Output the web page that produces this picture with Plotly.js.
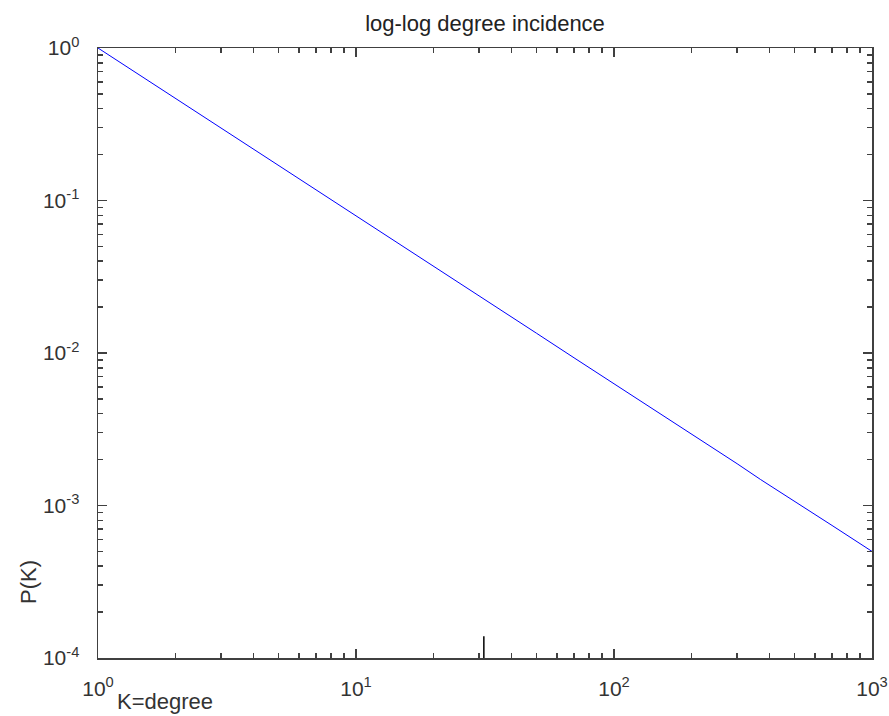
<!DOCTYPE html>
<html>
<head>
<meta charset="utf-8">
<script src="https://cdn.plot.ly/plotly-3.0.1.min.js"></script>
<style>html,body{margin:0;padding:0;background:#fff;}#chart{width:889px;height:716px;}</style>
</head>
<body>
<div id="chart"></div>
<script>
// Data
var degreeK = [1, 2, 3, 5, 6, 7, 10, 15, 20, 30, 50, 70, 100, 150, 200, 300, 370, 500, 700, 1000];
var probP   = [1.0, 0.467, 0.298, 0.171, 0.14, 0.118, 0.080, 0.051, 0.037, 0.0237, 0.0135, 0.0093, 0.0063, 0.00405, 0.00295, 0.00188, 0.00148, 0.00107, 0.00074, 0.0005];
var markerK = [31.3, 31.3];
var markerP = [0.0001, 0.000139];

var xTickVals = [1, 10, 100, 1000];
var xTickText = ['10<sup>0</sup>', '10<sup>1</sup>', '10<sup>2</sup>', '10<sup>3</sup>'];
var yTickVals = [0.0001, 0.001, 0.01, 0.1, 1];
var yTickText = ['10<sup>-4</sup>', '10<sup>-3</sup>', '10<sup>-2</sup>', '10<sup>-1</sup>', '10<sup>0</sup>'];
var titleText = 'log-log degree incidence';
var xLabel = 'K=degree';
var yLabel = 'P(K)';

function minorVals(lo, hi) {
  var out = [];
  for (var e = lo; e < hi; e++) {
    for (var m = 2; m <= 9; m++) out.push(m * Math.pow(10, e));
  }
  return out;
}

var font = 'Liberation Sans, Arial, sans-serif';
var axisColor = '#404040';

var traces = [
  {x: degreeK, y: probP, type: 'scatter', mode: 'lines',
   line: {color: '#0000ff', width: 1}, hoverinfo: 'skip'},
  {x: markerK, y: markerP, type: 'scatter', mode: 'lines',
   line: {color: '#000000', width: 1.5}, hoverinfo: 'skip'}
];

var layout = {
  width: 889, height: 716,
  margin: {l: 98, r: 17, t: 48, b: 58, pad: 0},
  paper_bgcolor: '#ffffff', plot_bgcolor: '#ffffff',
  showlegend: false,
  font: {family: font, size: 21, color: '#333333'},
  title: {text: titleText, font: {family: font, size: 22, color: '#222222'},
          x: 0.5, xref: 'paper', y: 1 - 23/716, yref: 'container', yanchor: 'middle'},
  xaxis: {
    type: 'log', range: [0, 3],
    tickmode: 'array', tickvals: xTickVals, ticktext: xTickText,
    ticks: 'inside', ticklen: 9, tickwidth: 1.5, tickcolor: axisColor,
    minor: {tickmode: 'array', tickvals: minorVals(0, 3), ticks: 'inside', ticklen: 5, tickwidth: 1.5, tickcolor: axisColor, showgrid: false},
    showline: true, linecolor: axisColor, linewidth: 1.5, mirror: 'ticks',
    showgrid: false, zeroline: false,
    tickfont: {family: font, size: 21, color: '#333333'},
    ticklabelstandoff: 11
  },
  yaxis: {
    type: 'log', range: [-4, 0],
    tickmode: 'array', tickvals: yTickVals, ticktext: yTickText,
    ticks: 'inside', ticklen: 9, tickwidth: 1.5, tickcolor: axisColor,
    minor: {tickmode: 'array', tickvals: minorVals(-4, 0), ticks: 'inside', ticklen: 5, tickwidth: 1.5, tickcolor: axisColor, showgrid: false},
    showline: true, linecolor: axisColor, linewidth: 1.5, mirror: 'ticks',
    showgrid: false, zeroline: false,
    tickfont: {family: font, size: 21, color: '#333333'},
    ticklabelstandoff: 13
  },
  annotations: [
    {text: xLabel, xref: 'paper', yref: 'paper', x: 17/774, y: -58/610, xanchor: 'left', yanchor: 'bottom',
     showarrow: false, font: {family: font, size: 22, color: '#333333'}},
    {text: yLabel, xref: 'paper', yref: 'paper', x: -70/774, y: (658-582)/610, xanchor: 'center', yanchor: 'middle',
     textangle: -90, showarrow: false, font: {family: font, size: 22, color: '#333333'}}
  ]
};

Plotly.newPlot('chart', traces, layout, {displayModeBar: false, staticPlot: true});
</script>
</body>
</html>
